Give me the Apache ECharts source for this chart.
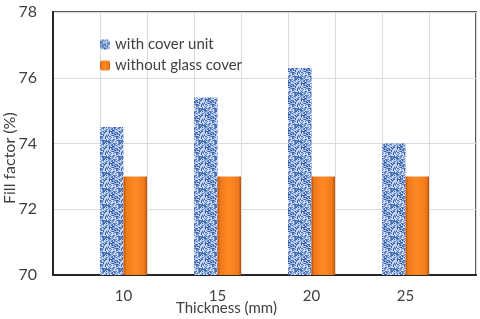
<!DOCTYPE html>
<html><head><meta charset="utf-8">
<script src="https://cdn.jsdelivr.net/npm/echarts@6/dist/echarts.min.js"></script>
<style>html,body{margin:0;padding:0;background:#fff}#c{width:480px;height:319px}</style>
</head><body><div id="c"></div>
<script>
// Data
var categories = ['10', '15', '20', '25'];
var withCover = [74.5, 75.4, 76.3, 74.0];
var withoutCover = [73.0, 73.0, 73.0, 73.0];
var seriesNames = ['with cover unit', 'without glass cover'];
var yTicks = [70, 72, 74, 76, 78];

// Axis slots: each category sits in every other slot of a 9-slot axis
var slots = [''];
var s1 = [null], s2 = [null];
categories.forEach(function (c, i) {
  slots.push(c); s1.push(withCover[i]); s2.push(withoutCover[i]);
  slots.push(''); s1.push(null); s2.push(null);
});

// deterministic blue woven texture
function makeTexture() {
  var n = 16, cv = document.createElement('canvas');
  cv.width = n; cv.height = n;
  var ctx = cv.getContext('2d');
  for (var y = 0; y < n; y++) for (var x = 0; x < n; x++) {
    var h = Math.sin(x * 12.9898 + y * 78.233) * 43758.5453; h = h - Math.floor(h);
    var w = ((x + (y >> 1)) % 4 === 0) || ((y + (x >> 1)) % 5 === 0);
    var col;
    if (w && h > 0.3) col = '#d2e1f6';
    else if (h > 0.7) col = '#a9c2ea';
    else if (h < 0.15) col = '#3a5da5';
    else if (h < 0.42) col = '#5a7ec2';
    else col = '#7898d4';
    ctx.fillStyle = col; ctx.fillRect(x, y, 1, 1);
  }
  return cv;
}
var tex = makeTexture();
var orange = new echarts.graphic.LinearGradient(0, 0, 1, 0, [
  {offset: 0, color: '#b9520c'}, {offset: 0.12, color: '#f07a1c'},
  {offset: 0.5, color: '#ff8a24'}, {offset: 0.88, color: '#f07a1c'}, {offset: 1, color: '#b9520c'}
]);

var chart = echarts.init(document.getElementById('c'));
var font = 'Lato, "Open Sans", sans-serif';
chart.setOption({
  animation: false,
  backgroundColor: '#fff',
  grid: {left: 53, right: 4, top: 12, bottom: 44, show: true, borderColor: '#595959', borderWidth: 2},
  legend: {
    orient: 'vertical', left: 95, top: 32, itemWidth: 10, itemHeight: 10, itemGap: 6,
    textStyle: {fontFamily: font, fontSize: 15, color: '#404040'},
    data: seriesNames
  },
  xAxis: {
    type: 'category', data: slots, boundaryGap: true,
    axisLine: {lineStyle: {color: '#262626', width: 2}},
    axisTick: {show: false},
    axisLabel: {interval: 0, margin: 14, fontFamily: font, fontSize: 15, color: '#404040'},
    splitLine: {show: true, interval: 0, lineStyle: {color: '#dcdcdc', width: 1}}
  },
  yAxis: {
    type: 'value', min: yTicks[0], max: yTicks[yTicks.length - 1], interval: 2,
    axisLine: {show: true, lineStyle: {color: '#262626', width: 2}},
    axisTick: {show: false},
    axisLabel: {margin: 16, fontFamily: font, fontSize: 16, color: '#404040'},
    splitLine: {lineStyle: {color: '#dcdcdc', width: 1}}
  },
  graphic: [
    {type: 'text', left: 176, top: 301, style: {text: 'Thickness (mm)', font: '15px ' + font, fill: '#404040'}},
    {type: 'text', x: 2, y: 204, rotation: Math.PI / 2, style: {text: 'Fill factor (%)', font: '16px ' + font, fill: '#404040'}}
  ],
  series: [
    {name: seriesNames[0], type: 'bar', data: s1, barGap: '0%', barCategoryGap: '0%',
     itemStyle: {color: {image: tex, repeat: 'repeat'}}},
    {name: seriesNames[1], type: 'bar', data: s2, barGap: '0%', barCategoryGap: '0%',
     itemStyle: {color: orange}}
  ]
});
</script></body></html>
